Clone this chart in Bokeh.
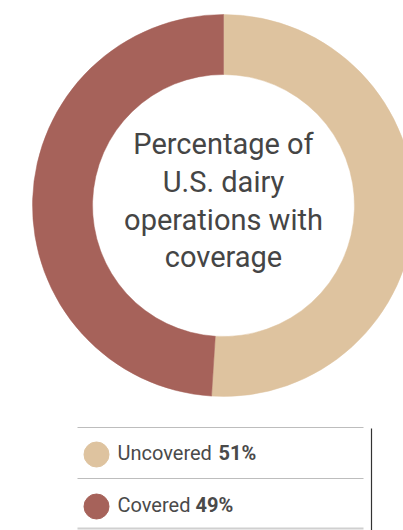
import math
from bokeh.plotting import figure
from bokeh.models import Range1d
from bokeh.core.properties import value
from bokeh.embed import file_html
from bokeh.resources import INLINE

categories = ["Uncovered", "Covered"]
percents = [51, 49]
colors = ["#DEC39F", "#A6625A"]
center_lines = ["Percentage of", "U.S. dairy", "operations with", "coverage"]

W, H = 403, 530
p = figure(width=W, height=H, output_backend="svg", toolbar_location=None,
           x_range=Range1d(0, W), y_range=Range1d(0, H), min_border=0)
p.axis.visible = False
p.grid.visible = False
p.outline_line_color = None
p.background_fill_color = "white"
p.border_fill_color = "white"

def Y(sy):
    return H - sy

# donut
cx, cy = 223, Y(205)
total = sum(percents)
start = math.pi / 2
starts, ends = [], []
for v in percents:
    end = start - v / total * 2 * math.pi
    starts.append(start)
    ends.append(end)
    start = end
p.annular_wedge(x=[cx] * len(percents), y=[cy] * len(percents),
                inner_radius=131, outer_radius=191,
                start_angle=starts, end_angle=ends, direction="clock",
                fill_color=colors, line_color=colors, line_width=0.5)

# center text
base = [143, 181, 219, 256]
p.text(x=[cx] * 4, y=[Y(b) for b in base], text=center_lines,
       text_align="center", text_baseline="alphabetic",
       text_font=value("Roboto"), text_font_size="29px", text_color="#454545")

# legend
p.segment(x0=[77, 77, 77], y0=[Y(427), Y(478), Y(528)],
          x1=[363, 363, 363], y1=[Y(427), Y(478), Y(528)],
          line_color=["#bdbdbd", "#bdbdbd", "#d0d0d0"], line_width=[1, 1, 2])
p.segment(x0=[371], y0=[Y(428)], x1=[371], y1=[Y(530)], line_color="#333333", line_width=1.2)
ly = [454, 506]
p.scatter(x=[96, 96], y=[Y(v) for v in ly], size=25, fill_color=colors, line_color=colors)
p.text(x=[117, 117], y=[Y(v - 2) for v in ly], text=categories,
       text_baseline="alphabetic", text_font=value("Roboto"),
       text_font_size="20px", text_color="#4a4a4a")
p.text(x=[218, 195], y=[Y(v - 2) for v in ly], text=[f"{v}%" for v in percents],
       text_baseline="alphabetic", text_font=value("Roboto"),
       text_font_style="bold", text_font_size="20px", text_color="#4a4a4a")

open("out.html", "w").write(file_html(p, INLINE))
